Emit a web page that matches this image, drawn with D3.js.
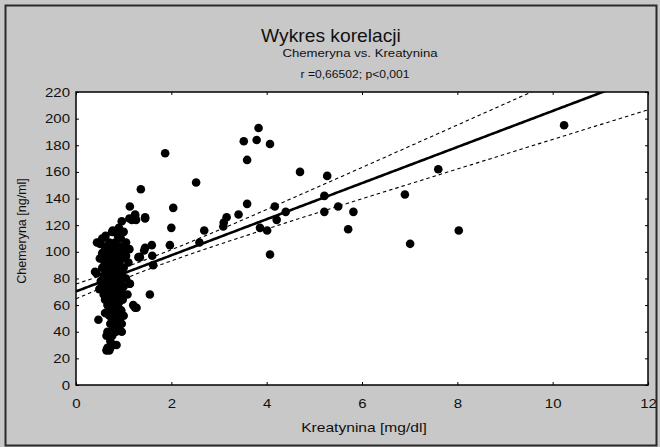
<!DOCTYPE html>
<html>
<head>
<meta charset="utf-8">
<script src="https://cdn.jsdelivr.net/npm/d3@7"></script>
<style>
  html, body { margin: 0; padding: 0; background: #c8c8c8; }
  svg { display: block; font-family: Arial, "Liberation Sans", sans-serif; }
</style>
</head>
<body>
<svg id="chart" width="660" height="447"></svg>
<script>
// Creatinine [mg/dl] and chemerin [ng/ml], one entry per patient
const kreatynina = [
  // main cluster
  0.90, 0.76, 1.00, 0.62, 0.88, 0.94, 0.55, 0.49, 0.70, 0.82, 1.05,
  0.60, 0.75, 0.92, 0.68, 0.85, 1.00, 1.12, 0.55, 0.72, 0.80, 0.95,
  0.64, 0.88, 1.05, 0.50, 0.70, 0.78, 0.98, 0.60, 0.75, 0.85, 1.10,
  0.66, 0.80, 0.92, 0.55, 0.72, 1.00, 0.62, 0.78, 0.88, 0.43, 0.68,
  0.82, 0.96, 0.58, 0.75, 0.90, 0.64, 0.70, 0.85, 1.05, 0.52, 0.78,
  0.94, 0.60, 0.72, 0.88, 1.13, 0.66, 0.80, 1.00, 0.49, 0.62, 0.76,
  0.90, 0.70, 0.84, 0.96, 0.58, 0.66, 0.80, 1.08, 0.64, 0.78, 0.92,
  0.61, 0.72, 0.86, 0.98, 0.68, 0.80, 0.90, 0.66, 0.76, 0.88, 1.20,
  0.70, 0.84, 1.24, 0.74, 0.80, 0.95, 0.61, 0.78, 0.90, 0.70, 0.86,
  1.00, 0.76, 0.92, 0.47, 0.82, 0.72, 0.88, 0.96, 0.78, 0.90, 0.66,
  0.84, 0.96, 0.64, 0.76, 0.72, 0.78, 0.85, 0.66, 0.72, 0.64, 0.70,
  0.40, 0.44, 0.50,
  // right of the cluster
  1.13, 1.27, 1.55, 1.31, 1.59, 1.43, 1.34, 1.62, 1.60, 1.45, 1.33,
  // upper left group
  1.13, 0.96, 1.12, 1.24, 1.26, 1.45, 1.36, 1.17, 1.24, 1.45, 0.77,
  // middle range
  1.87, 2.04, 2.00, 1.97, 2.52, 2.69, 2.59, 3.09, 3.16, 3.10, 3.41,
  3.52, 3.79, 3.83, 4.07, 3.59, 3.59, 3.86, 4.01, 4.07, 4.17, 4.21,
  4.40, 4.70, 5.27, 5.21, 5.21, 5.50, 5.82, 5.71,
  // high creatinine
  6.90, 7.01, 7.60, 8.03, 10.24
];
const chemeryna = [
  118, 115, 115, 112, 112, 110, 110, 107, 107, 107, 107,
  104, 104, 104, 102, 102, 102, 102, 99, 99, 99, 99,
  97, 97, 97, 95, 95, 95, 95, 92, 92, 92, 92,
  90, 90, 90, 88, 88, 88, 86, 86, 86, 84, 84,
  84, 84, 82, 82, 82, 80, 80, 80, 80, 78, 78,
  78, 76, 76, 76, 76, 74, 74, 74, 72, 72, 72,
  72, 70, 70, 70, 68, 68, 68, 68, 66, 66, 66,
  64, 64, 64, 64, 62, 62, 62, 60, 60, 60, 60,
  58, 58, 58, 56, 56, 56, 54, 54, 54, 52, 52,
  52, 50, 50, 49, 49, 46, 46, 46, 43, 43, 40,
  40, 40, 37, 37, 33, 30, 30, 28, 28, 26, 26,
  85, 107, 106,
  76, 58, 68, 96, 105, 101, 96, 90, 97, 103, 96,
  134, 123, 125, 128, 124, 125, 147, 124, 127, 126, 116,
  174, 133, 118, 105, 152, 116, 107, 119, 126, 122, 128,
  183, 184, 193, 181, 169, 136, 118, 116, 98, 134, 124,
  130, 160, 157, 142, 130, 134, 130, 117,
  143, 106, 162, 116, 195
];

const xTicks = [0, 2, 4, 6, 8, 10, 12];
const yTicks = [0, 20, 40, 60, 80, 100, 120, 140, 160, 180, 200, 220];

const titleText = "Wykres korelacji";
const subtitleText = "Chemeryna vs. Kreatynina";
const statText = "r =0,66502; p<0,001";
const xLabel = "Kreatynina [mg/dl]";
const yLabel = "Chemeryna [ng/ml]";

const W = 660, H = 447;
const plot = { left: 76, right: 648, top: 92, bottom: 385 };
const SX = 1.2; // horizontal glyph stretch used for tick labels

const svg = d3.select("#chart");

const x = d3.scaleLinear().domain([0, 12]).range([plot.left, plot.right]);
const y = d3.scaleLinear().domain([0, 220]).range([plot.bottom, plot.top]);

// caption helper: text anchored at (tx, ty), widened by sx
function caption(tx, ty, str, size, sx) {
  return svg.append("text")
    .attr("transform", `translate(${tx},${ty}) scale(${sx},1)`)
    .attr("text-anchor", "middle")
    .attr("font-size", size).attr("fill", "#111").text(str);
}

// outer panel
svg.append("rect").attr("x", 0).attr("y", 0).attr("width", W).attr("height", H).attr("fill", "#c8c8c8");
svg.append("rect").attr("x", 5.5).attr("y", 5.5).attr("width", 651).attr("height", 440)
  .attr("fill", "none").attr("stroke", "#2a2a2a").attr("stroke-width", 2);

// titles
caption(331, 42, titleText, 17.5, 1.1);
caption(360, 57, subtitleText, 11, 1.2);
caption(355, 78, statText, 11, 1.1);

// plotting area
svg.append("rect").attr("x", plot.left).attr("y", plot.top)
  .attr("width", plot.right - plot.left).attr("height", plot.bottom - plot.top)
  .attr("fill", "#fff");

svg.append("clipPath").attr("id", "clip").append("rect")
  .attr("x", plot.left).attr("y", plot.top)
  .attr("width", plot.right - plot.left).attr("height", plot.bottom - plot.top);

// least-squares fit with 95% confidence band for the mean
const pts = kreatynina.map((k, i) => ({ x: k, y: chemeryna[i] }));
const n = pts.length;
const mx = d3.mean(pts, d => d.x), my = d3.mean(pts, d => d.y);
const sxx = d3.sum(pts, d => (d.x - mx) ** 2);
const sxy = d3.sum(pts, d => (d.x - mx) * (d.y - my));
const b = sxy / sxx, a = my - b * mx;
const sres = Math.sqrt(d3.sum(pts, d => (d.y - a - b * d.x) ** 2) / (n - 2));
const tcrit = 1.975;
const half = xv => tcrit * sres * Math.sqrt(1 / n + (xv - mx) ** 2 / sxx);

const grid = d3.range(0, 12.001, 0.05);
const line = d3.line().x(d => x(d[0])).y(d => y(d[1]));
const fitG = svg.append("g").attr("clip-path", "url(#clip)");

[1, -1].forEach(sgn => {
  fitG.append("path").datum(grid.map(v => [v, a + b * v + sgn * half(v)]))
    .attr("d", line).attr("fill", "none").attr("stroke", "#000")
    .attr("stroke-width", 1.1).attr("stroke-dasharray", "3.5,3");
});

// points
fitG.append("g").selectAll("circle").data(pts).join("circle")
  .attr("cx", d => x(d.x)).attr("cy", d => y(d.y)).attr("r", 4.3).attr("fill", "#000");

fitG.append("path").datum(grid.map(v => [v, a + b * v]))
  .attr("d", line).attr("fill", "none").attr("stroke", "#000").attr("stroke-width", 2.6);

// axes: ticks point into the plotting area
const axB = svg.append("g").attr("transform", `translate(0,${plot.bottom})`)
  .call(d3.axisBottom(x).tickValues(xTicks).tickSize(-3).tickPadding(14).tickFormat(d3.format("d")));
const axT = svg.append("g").attr("transform", `translate(0,${plot.top})`)
  .call(d3.axisTop(x).tickValues(xTicks).tickSize(-3).tickFormat(""));
const axL = svg.append("g").attr("transform", `translate(${plot.left},0)`)
  .call(d3.axisLeft(y).tickValues(yTicks).tickSize(-3).tickPadding(6).tickFormat(d3.format("d")));
const axR = svg.append("g").attr("transform", `translate(${plot.right},0)`)
  .call(d3.axisRight(y).tickValues(yTicks).tickSize(-3).tickFormat(""));

[axB, axT, axL, axR].forEach(g => {
  g.select(".domain").remove();
  g.selectAll(".tick line").attr("stroke", "#000");
  g.selectAll("text").attr("font-size", 12.5).attr("fill", "#111")
    .attr("font-family", "Arial, 'Liberation Sans', sans-serif");
});
axB.selectAll(".tick text").attr("transform", `scale(${SX},1)`);
axL.selectAll(".tick text").attr("x", -6 / SX).attr("transform", `scale(${SX},1)`);

// plot frame
svg.append("rect").attr("x", plot.left).attr("y", plot.top)
  .attr("width", plot.right - plot.left).attr("height", plot.bottom - plot.top)
  .attr("fill", "none").attr("stroke", "#000").attr("stroke-width", 1.5);

// axis titles
caption(364, 432, xLabel, 12, 1.3);
svg.append("text").attr("transform", "translate(25.5,231) rotate(-90)")
  .attr("text-anchor", "middle").attr("font-size", 12.5).attr("fill", "#111").text(yLabel);
</script>
</body>
</html>
